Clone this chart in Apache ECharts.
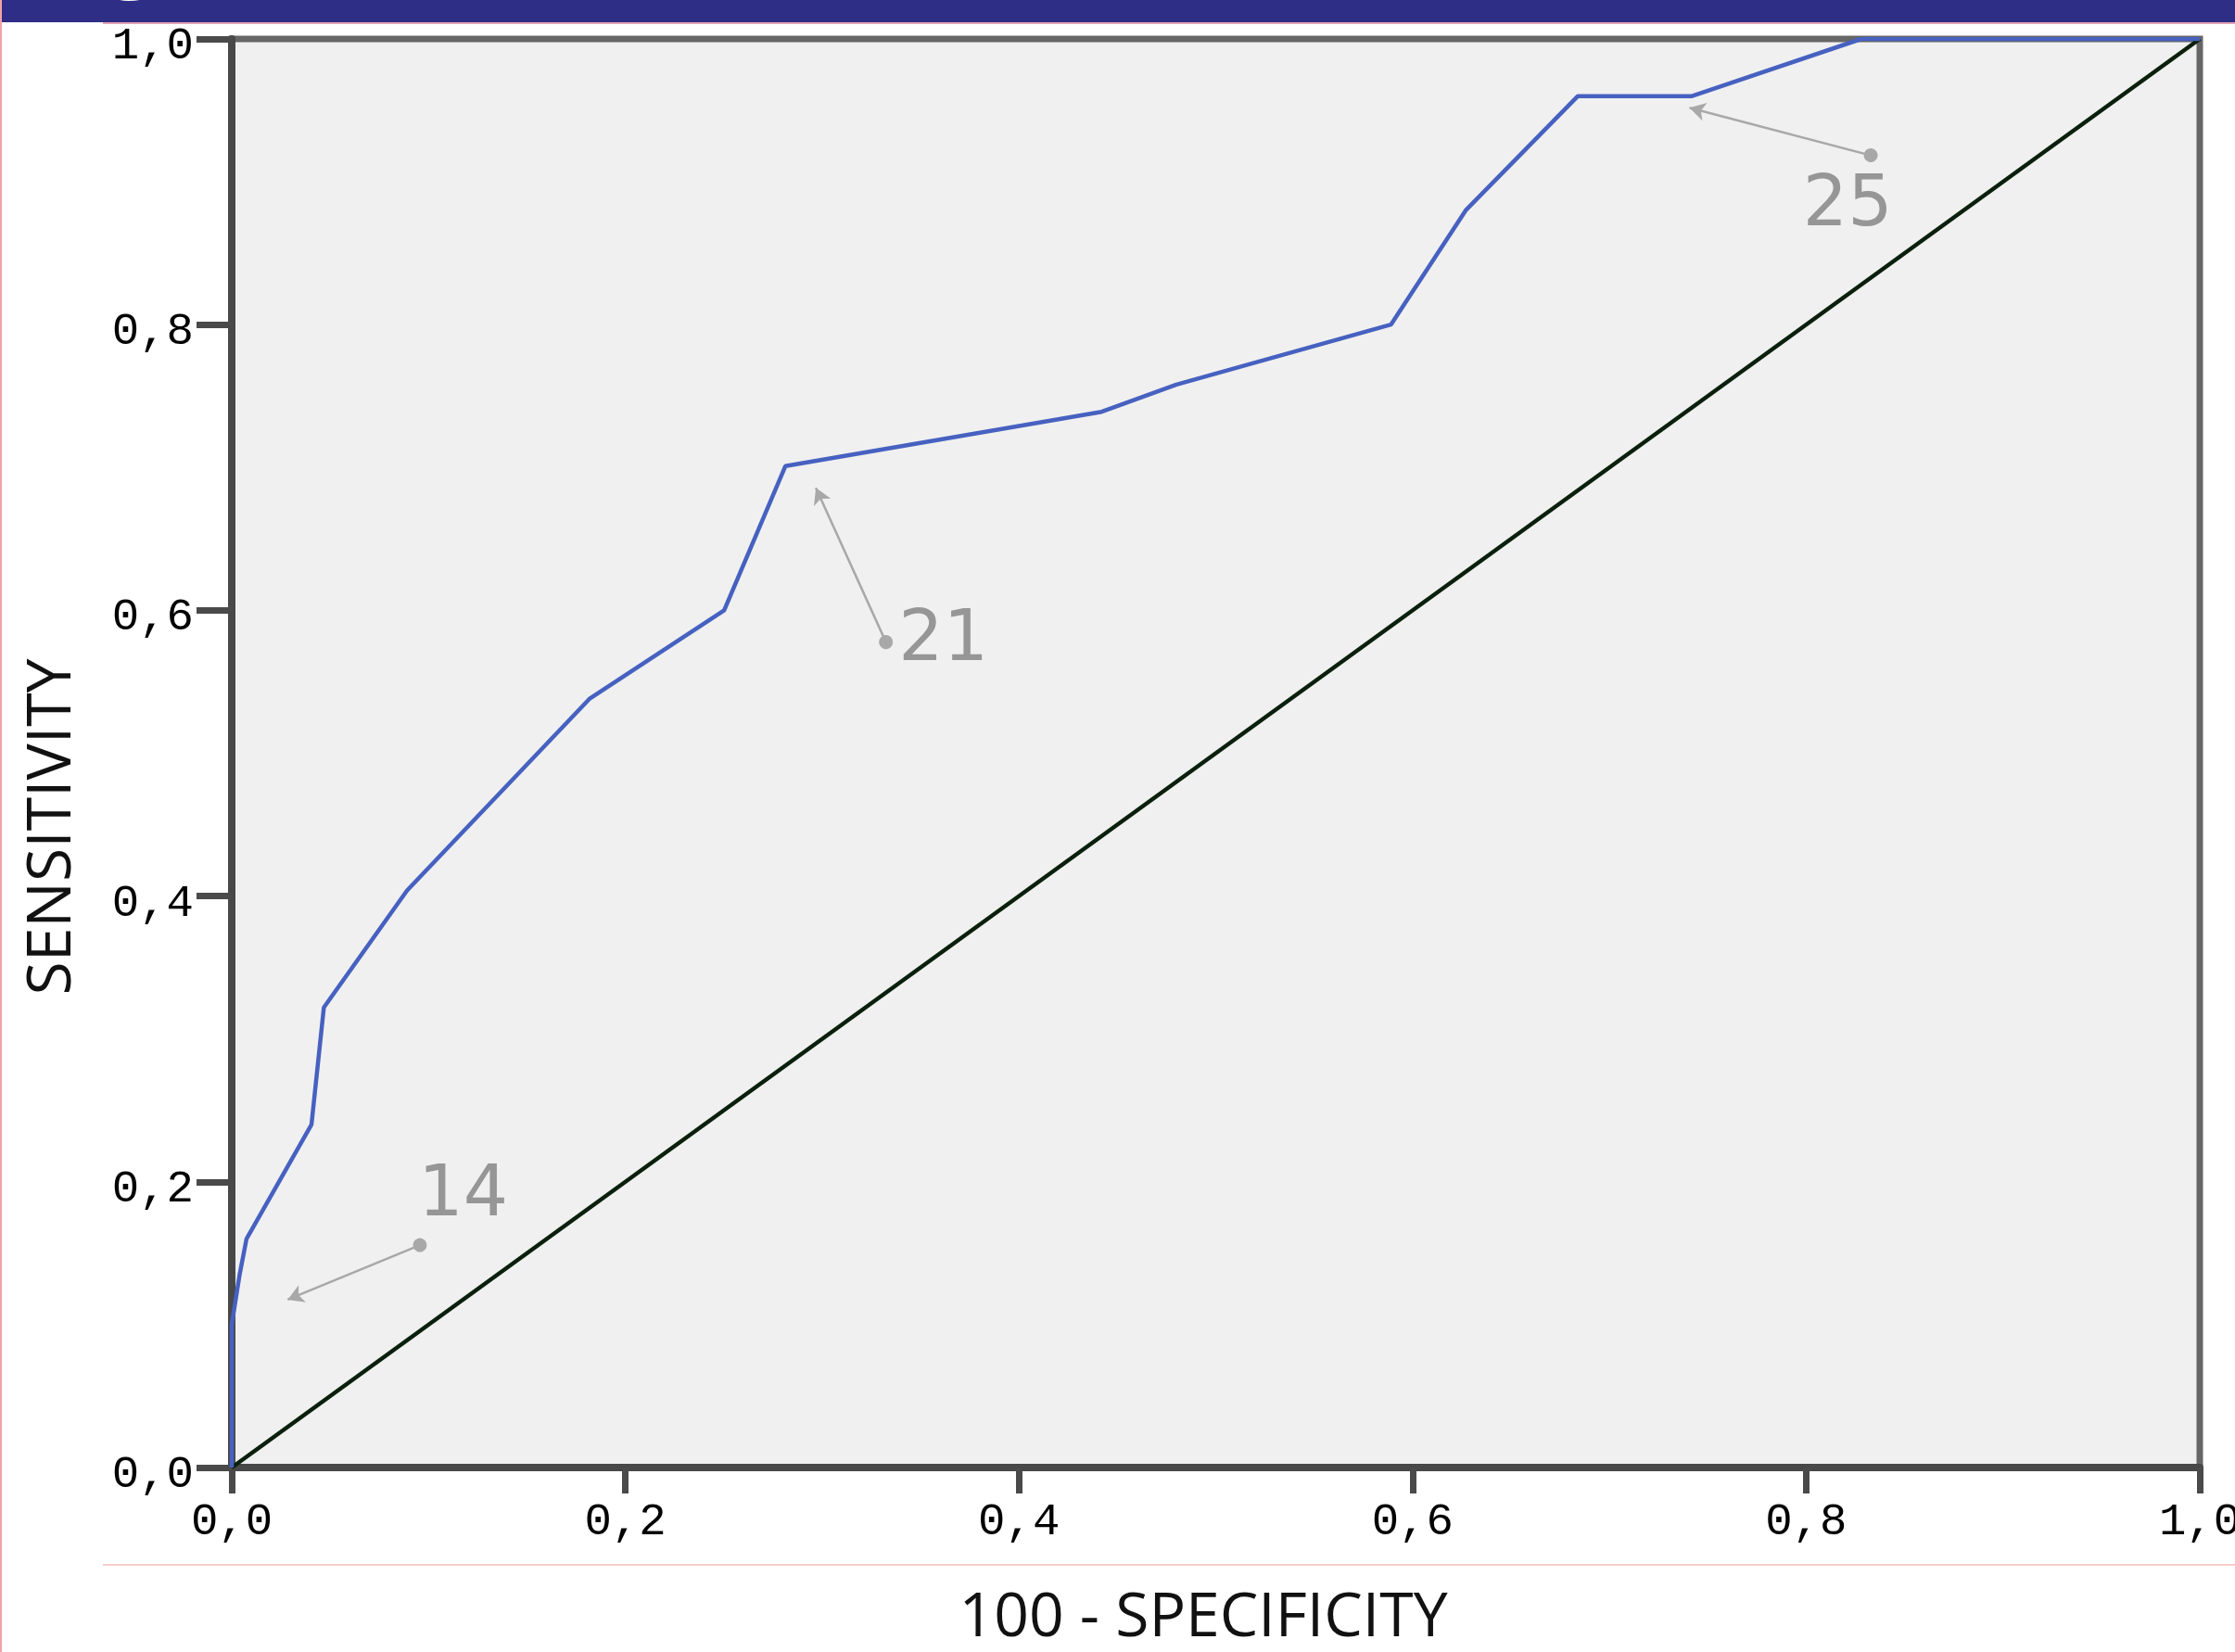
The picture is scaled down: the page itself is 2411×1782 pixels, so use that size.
<!DOCTYPE html>
<html><head><meta charset="utf-8">
<script src="https://cdn.jsdelivr.net/npm/echarts@6/dist/echarts.min.js"></script>
<style>html,body{margin:0;padding:0;background:#fff;overflow:hidden;}#c{width:2411px;height:1782px;}</style>
</head><body><div id="c"></div>
<script>
// ROC curve (1 - specificity vs sensitivity)
const fpr = [0, 0, 0.004, 0.0075, 0.0405, 0.0468, 0.0891, 0.1817, 0.2502, 0.2813, 0.442, 0.48, 0.589, 0.627, 0.684, 0.742, 0.828, 1];
const sensitivity = [0, 0.10, 0.135, 0.16, 0.24, 0.322, 0.404, 0.538, 0.600, 0.701, 0.739, 0.758, 0.800, 0.880, 0.960, 0.960, 1.0, 1.0];
// reference (chance) diagonal
const refX = [0, 1];
const refY = [0, 1];
// axis ticks
const tickMin = 0, tickMax = 1, tickStep = 0.2;
// cut-off annotations (data units)
const annoLabels = ['14', '21', '25'];
const annoTextX = [0.1176, 0.3616, 0.8211];
const annoTextY = [0.1894, 0.5779, 0.8823];
const annoDotX = [0.0956, 0.3324, 0.8328];
const annoDotY = [0.1557, 0.5778, 0.9185];
const annoTipX = [0.0284, 0.2968, 0.7407];
const annoTipY = [0.1175, 0.6857, 0.9518];
const xTitle = '100 - SPECIFICITY';
const yTitle = 'SENSITIVITY';

const fmt = v => v.toFixed(1).replace('.', ',');
const chart = echarts.init(document.getElementById('c'), null, {renderer: 'canvas'});

const axisCommon = {
  type: 'value', min: tickMin, max: tickMax, interval: tickStep,
  splitLine: {show: false},
  axisLine: {show: true, lineStyle: {color: '#484848', width: 8}},
  axisLabel: {formatter: fmt, fontFamily: 'Liberation Mono', fontSize: 49, color: '#000'}
};

chart.setOption({
  animation: false,
  backgroundColor: '#ffffff',
  grid: {left: 250, top: 42, width: 2123, height: 1541, show: true,
         outerBoundsMode: 'none', containLabel: false,
         backgroundColor: '#f0f0f0', borderColor: '#666666', borderWidth: 7},
  xAxis: Object.assign({}, axisCommon, {
    axisTick: {show: true, length: 28, lineStyle: {color: '#4a4a4a', width: 7}},
    axisLabel: Object.assign({}, axisCommon.axisLabel, {margin: 35})
  }),
  yAxis: Object.assign({}, axisCommon, {
    axisTick: {show: true, length: 38, lineStyle: {color: '#4a4a4a', width: 7}},
    axisLabel: Object.assign({}, axisCommon.axisLabel, {
      margin: 41,
      formatter: v => '{v|' + fmt(v) + '}',
      rich: {v: {fontFamily: 'Liberation Mono', fontSize: 49, color: '#000', padding: [16, 0, 0, 0]}}
    })
  }),
  series: [
    {type: 'line', name: 'Reference', data: refX.map((x, i) => [x, refY[i]]),
     showSymbol: false, z: 3, lineStyle: {color: '#0a200c', width: 4.5}},
    {type: 'line', name: 'ROC', data: fpr.map((x, i) => [x, sensitivity[i]]),
     showSymbol: false, z: 4, lineStyle: {color: '#4661c0', width: 4.5}},
    {type: 'scatter', name: 'Cut-offs', z: 5, symbolSize: 0,
     data: annoTextX.map((x, i) => [x, annoTextY[i]]),
     label: {show: true, position: 'inside', formatter: p => annoLabels[p.dataIndex],
             fontFamily: 'DejaVu Sans', fontSize: 76, color: '#808080'},
     markLine: {silent: true, animation: false, symbol: ['circle', 'arrow'], symbolSize: [15, 17],
                lineStyle: {color: '#a8a8a8', width: 2.5, type: 'solid'},
                itemStyle: {color: '#a8a8a8'},
                label: {show: false},
                data: annoDotX.map((x, i) => [{coord: [x, annoDotY[i]]}, {coord: [annoTipX[i], annoTipY[i]]}])}}
  ],
  graphic: [
    {type: 'rect', shape: {x: 0, y: 0, width: 2411, height: 24}, style: {fill: '#2e2e87'}, z: 10},
    {type: 'text', z: 11, style: {text: 'g', x: 142, y: -1, fill: '#ffffff', font: '96px "Open Sans"', align: 'center', verticalAlign: 'bottom'}},
    {type: 'line', shape: {x1: 111, y1: 25, x2: 2411, y2: 25}, style: {stroke: '#e6a3b6', lineWidth: 2}, z: 10},
    {type: 'line', shape: {x1: 1, y1: 0, x2: 1, y2: 1782}, style: {stroke: '#f2a2a8', lineWidth: 2}, z: 10},
    {type: 'line', shape: {x1: 111, y1: 1688, x2: 2411, y2: 1688}, style: {stroke: '#f9cccc', lineWidth: 2}, z: 10},
    {type: 'text', z: 10, style: {text: xTitle, x: 1298, y: 1746, fill: '#111', font: '66px "Open Sans"', align: 'center', verticalAlign: 'middle'}},
    {type: 'text', z: 10, x: 57, y: 892, rotation: Math.PI / 2,
     style: {text: yTitle, x: 0, y: 0, fill: '#111', font: '66px "Open Sans"', align: 'center', verticalAlign: 'middle'}}
  ]
});
</script></body></html>
